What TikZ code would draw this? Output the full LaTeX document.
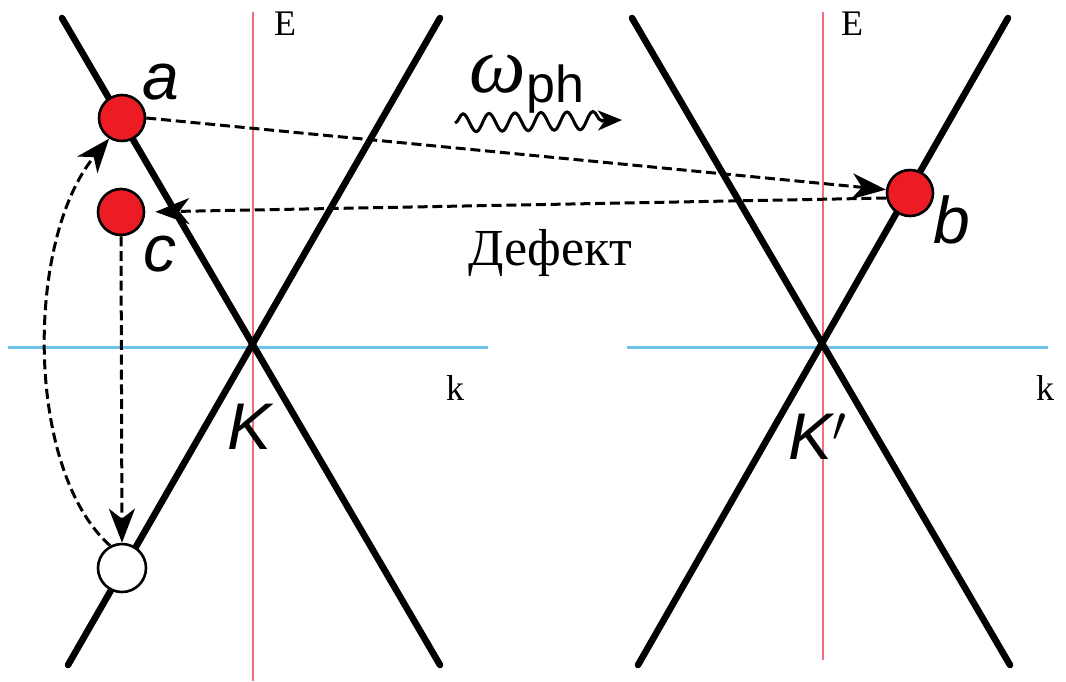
\documentclass[tikz,border=0pt]{standalone}
\usepackage{fontspec}
\setmainfont{Liberation Serif}
\newfontfamily\labelfont{Liberation Sans}
\usetikzlibrary{arrows.meta,decorations.pathmorphing}
\definecolor{cred}{RGB}{237,28,36}
\definecolor{eline}{RGB}{240,110,120}
\definecolor{kline}{RGB}{110,195,235}
\tikzset{px/.style={x=0.5pt,y=-0.5pt},
  band/.style={line width=3.3pt,line cap=round},
  eaxis/.style={draw=eline,line width=1pt},
  kaxis/.style={draw=kline,line width=1.5pt},
  electron/.style={circle,draw=black,line width=1.3pt,fill=cred,minimum size=23pt,inner sep=0pt},
  emptystate/.style={electron,fill=white,minimum size=24pt},
  hop/.style={line width=1.5pt,dash pattern=on 5pt off 2.4pt,-{Stealth[length=17pt,width=13pt,inset=5pt]}},
  tag/.style={font=\labelfont\itshape\fontsize{33}{33}\selectfont},
  axlabel/.style={font=\fontsize{18}{18}\selectfont}}
\begin{document}
\begin{tikzpicture}[px]
    \useasboundingbox (0,0) rectangle (1066,681);
    % valley K
    \draw[eaxis] (253,12) -- (253,681);
    \draw[kaxis] (8,347) -- (488,347);
    \draw[band] (62,18) -- (440,665);
    \draw[band] (440,18) -- (68,665);
    \node[axlabel] (eK) at (285,24) {E};
    \node[axlabel] (kK) at (455,388) {k};
    \node[tag] (valK) at (250,427) {K};
    % valley K'
    \draw[eaxis] (823,12) -- (823,660);
    \draw[kaxis] (627,347) -- (1048,347);
    \draw[band] (632,18) -- (1010,665);
    \draw[band] (1008,18) -- (638,665);
    \node[axlabel] (eKp) at (852,24) {E};
    \node[axlabel] (kKp) at (1045,388) {k};
    \node[tag] (valKp) at (818,437) {K$'$};
    % states
    \node[electron] (elA) at (122,118) {};
    \node[electron] (elC) at (121,212) {};
    \node[electron] (elB) at (910,193) {};
    \node[emptystate] (hole) at (122,568) {};
    \node[tag] at (161,82) {a};
    \node[tag] at (160,254) {c};
    \node[tag] at (952,220) {b};
    % scattering
    \draw[hop] (elA.east) -- (elB.172);
    \draw[hop,shorten >=5pt] (elB.192) -- (elC.east);
    \draw[hop] (elC.south) -- (hole.north);
    \draw[hop] (hole.118) .. controls (25,470) and (25,240) .. (elA.238);
    % phonon
    \coordinate (phStart) at (455,123);
    \coordinate (phEnd) at (622,120);
    \draw[line width=1.5pt,-{Stealth[length=12pt,width=10pt,inset=3.5pt]},
      decorate,decoration={snake,amplitude=4.5pt,segment length=13pt,post length=8pt}]
      (phStart) -- (phEnd);
    \node[inner sep=0pt] (omega) at (527,84) {\fontsize{40}{40}\selectfont\itshape ω\raisebox{-5pt}{\labelfont\upshape\fontsize{26}{26}\selectfont ph}};
    \node[font=\fontsize{26}{26}\selectfont] (defect) at (550,253) {Дефект};
  \end{tikzpicture}
\end{document}
